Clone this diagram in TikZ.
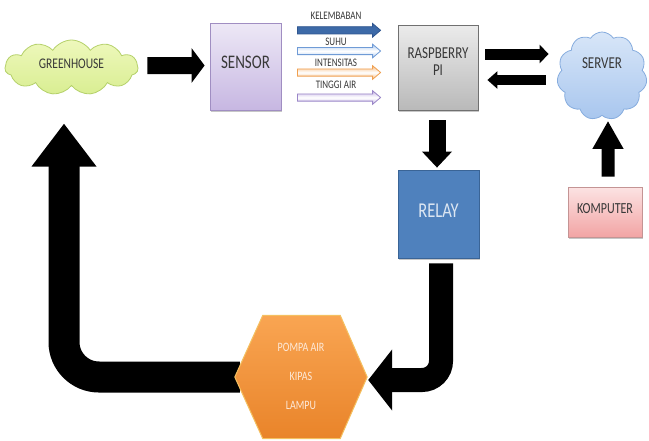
\documentclass[tikz,border=0pt]{standalone}
\usepackage{fontspec}
\setmainfont{Carlito}
\usetikzlibrary{shapes.symbols,arrows.meta,calc,shadows}
\definecolor{txtc}{HTML}{383838}
\definecolor{ghfillA}{HTML}{EEF8BC}
\definecolor{ghfillB}{HTML}{D9EE92}
\definecolor{ghline}{HTML}{B5D16A}
\definecolor{srvA}{HTML}{D8E6F8}
\definecolor{srvB}{HTML}{A8C6EE}
\definecolor{srvline}{HTML}{86ACDE}
\definecolor{senA}{HTML}{EDE8F6}
\definecolor{senB}{HTML}{C7B7E2}
\definecolor{senline}{HTML}{A08EC2}
\definecolor{rasA}{HTML}{EBEBEB}
\definecolor{rasB}{HTML}{B9B9B9}
\definecolor{rasline}{HTML}{707070}
\definecolor{relfill}{HTML}{4F81BD}
\definecolor{relline}{HTML}{3A6496}
\definecolor{reltxt}{HTML}{DCE6F2}
\definecolor{komA}{HTML}{FCE3E3}
\definecolor{komB}{HTML}{F2A4A4}
\definecolor{komline}{HTML}{C49494}
\definecolor{hexA}{HTML}{F9A552}
\definecolor{hexB}{HTML}{E9842A}
\definecolor{hexline}{HTML}{F4C060}
\definecolor{hextxt}{HTML}{FDE9D9}
\definecolor{kelA}{HTML}{3D6AA8}
\definecolor{kelL}{HTML}{2F5690}
\definecolor{suhA}{HTML}{B5CEF0}
\definecolor{suhL}{HTML}{6F9BD6}
\definecolor{intA}{HTML}{F8BE86}
\definecolor{intL}{HTML}{F0A050}
\definecolor{tinA}{HTML}{C8B9E7}
\definecolor{tinL}{HTML}{9A86C8}
\newcommand\tall[1]{\scalebox{1}[1.28]{#1}}
\newcommand\dataarrow[6]{%
  \coordinate (ds) at ($(sensor.east |- 0,#1)+(16,0)$);
  \coordinate (dt) at ($(rasp.west |- 0,#1)+(-17,0)$);
  \draw[draw=#3, line width=0.8pt, top color=#2, bottom color=#2, middle color=#6]
    ($(ds)+(0,-3.6)$) -- ($(dt)+(-8,-3.6)$) -- ($(dt)+(-8,-6.8)$) -- (dt)
    -- ($(dt)+(-8,6.8)$) -- ($(dt)+(-8,3.6)$) -- ($(ds)+(0,3.6)$) -- cycle;
  \node[small] at (336,#5) {\tall{#4}};
}
\begin{document}
\begin{tikzpicture}[x=1pt,y=-1pt,
  small/.style={text=txtc, font=\fontsize{9}{10}\selectfont, inner sep=0pt},
  boxs/.style={draw, line width=0.8pt, inner sep=0pt,
    drop shadow={shadow xshift=1.2pt, shadow yshift=-1.5pt, opacity=0.22, fill=black}},
  cloudy/.style={cloud, cloud puffs=11, cloud puff arc=115, cloud ignores aspect,
    draw, line width=0.8pt, inner sep=0pt},
  fat/.style n args={3}{line width=#1, draw=black, -{Triangle[width=#2,length=#3]}},
  hook/.style n args={4}{line width=#1, draw=black, rounded corners=#4, -{Triangle[width=#2,length=#3]}}
]
\useasboundingbox (0,0) rectangle (649,440);
\fill[white] (0,0) rectangle (649,440);

% nodes
\node[cloudy, top color=ghfillA, bottom color=ghfillB, draw=ghline,
  minimum width=133pt, minimum height=55pt, text=txtc, font=\fontsize{11.5}{12}\selectfont,
  text height=8pt, text depth=7pt] (gh) at (71.5,67.5) {\tall{GREENHOUSE}};
\node[boxs, top color=senA, bottom color=senB, draw=senline,
  minimum width=71pt, minimum height=87pt, text=txtc, font=\fontsize{15}{16}\selectfont,
  text height=10pt, text depth=6pt] (sensor) at (245.5,66.5) {\tall{SENSOR}};
\node[boxs, top color=rasA, bottom color=rasB, draw=rasline,
  minimum width=80pt, minimum height=85pt] (rasp) at (438,67.5) {};
\node[text=txtc, font=\fontsize{13}{17}\selectfont, align=center, inner sep=0pt]
  (rasptxt) at ($(rasp)+(0,-6)$) {\tall{RASPBERRY}\\\tall{PI}};
\node[cloudy, top color=srvA, bottom color=srvB, draw=srvline,
  minimum width=90pt, minimum height=88pt, text=txtc, font=\fontsize{13}{14}\selectfont,
  text height=9pt, text depth=25pt] (srv) at (602,76) {\tall{SERVER}};
\node[boxs, fill=relfill, draw=relline,
  minimum width=81pt, minimum height=88pt, text=reltxt, font=\fontsize{16.5}{18}\selectfont,
  text height=11pt, text depth=5pt] (relay) at (438.5,214) {\tall{RELAY}};
\node[boxs, top color=komA, bottom color=komB, draw=komline,
  minimum width=74pt, minimum height=50pt, text=txtc, font=\fontsize{12}{13}\selectfont,
  text height=8pt, text depth=6pt] (komp) at (605,212) {\tall{KOMPUTER}};
\node[minimum width=132pt, minimum height=123pt, inner sep=0pt] (hex) at (301,377) {};

% sensor data arrows
\dataarrow{30.3}{kelA}{kelL}{KELEMBABAN}{16}{kelA}
\dataarrow{51}{suhA}{suhL}{SUHU}{42}{white}
\dataarrow{72.5}{intA}{intL}{INTENSITAS}{63}{white}
\dataarrow{97.5}{tinA}{tinL}{TINGGI AIR}{85}{white}

% block arrows
\draw[fat={17pt}{34pt}{13pt}] ($(gh.east)+(9,-2)$) -- ($(sensor.west)+(-5,-1)$);
\coordinate (rs1) at ($(rasp.east)+(7,-13.5)$);
\draw[fat={11pt}{18pt}{9pt}, shorten >=9pt] (rs1) -- (rs1 -| srv.west);
\coordinate (sr1) at ($(rasp.east)+(9,12.5)$);
\draw[fat={10pt}{17pt}{10pt}] ($(sr1 -| srv.west)+(-12,0)$) -- (sr1);
\draw[fat={17pt}{29pt}{16pt}] ($(rasp.south)+(-1,10)$) -- ($(relay.north)+(-1.5,-2)$);
\draw[fat={13pt}{29pt}{28pt}] ($(komp.north)+(3,-10)$) -- ($(srv.south)+(6,5)$);

% hook arrows
\draw[hook={24pt}{60pt}{24pt}{19pt}] ($(relay.south)+(2.5,5)$) |- ($(hex.east)+(1,3)$);
\draw[hook={31pt}{62pt}{43pt}{35pt}] ($(hex.west)+(5,0)$) -| ($(gh.center)+(-7.5,56)$);

% hexagon
\draw[line width=1pt, draw=hexline, top color=hexA, bottom color=hexB]
  (hex.west) -- ($(hex.north west)+(28,0)$) -- ($(hex.north east)+(-27,0)$) -- (hex.east)
  -- ($(hex.south east)+(-27,0)$) -- ($(hex.south west)+(28,0)$) -- cycle;
\node[text=hextxt, font=\fontsize{10}{29}\selectfont, align=center, inner sep=0pt]
  (hextxtn) at ($(hex)+(0,-1)$) {\tall{POMPA AIR}\\\tall{KIPAS}\\\tall{LAMPU}};
\end{tikzpicture}
\end{document}
